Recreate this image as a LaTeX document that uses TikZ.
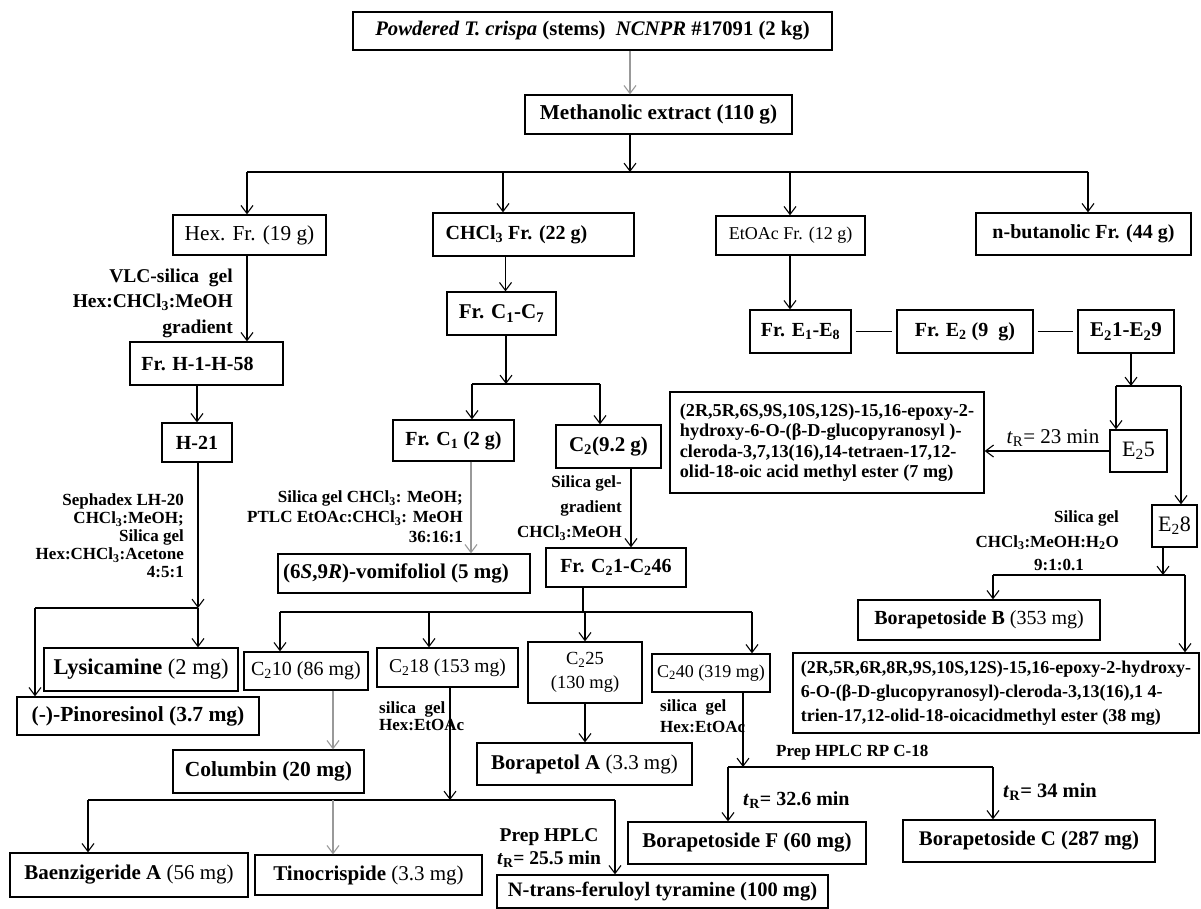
\documentclass[tikz,border=0pt]{standalone}
\usepackage{fontspec}
\setmainfont{Liberation Serif}
\usetikzlibrary{arrows.meta}
\newcommand\fsz[2]{\fontsize{#1}{#2}\selectfont}
\tikzset{
  bx/.style={draw, line width=1.3pt, inner sep=1pt, align=center, font=\fsz{20}{24}\bfseries},
  bf/.style={font=\fsz{#1}{24}\bfseries},
  rg/.style={font=\fsz{#1}{24}\mdseries},
  arr/.style={line width=1.1pt, -{Straight Barb[length=8pt,width=12pt]}},
  garr/.style={arr, draw=gray!80},
  bus/.style={line width=2.6pt},
  thin/.style={line width=1.3pt},
  lab/.style={inner sep=0pt, font=\fsz{17}{20}\bfseries},
}
\begin{document}
\begin{tikzpicture}[x=1pt,y=-1pt]
\fill[white] (0,0) rectangle (1201,909);
\useasboundingbox (0,0) rectangle (1201,909);

% boxes
\node[bx,bf=20.7,minimum width=479pt,minimum height=38pt] (top) at (592.5,31) {\textit{Powdered T. crispa} (stems)\ \ \textit{NCNPR} \#17091 (2 kg)};
\node[bx,bf=21.2,minimum width=267pt,minimum height=39pt] (meth) at (658.5,114.5) {Methanolic extract (110 g)};
\node[bx,rg=21.3,minimum width=153pt,minimum height=40pt] (hex) at (249.5,235) {Hex. Fr. (19 g)};
\node[bx,minimum width=201pt,minimum height=43pt] (chcl) at (533.5,234.5) {CHCl\textsubscript{3} Fr. (22 g)\hspace*{34pt}};
\node[bx,rg=18,minimum width=149pt,minimum height=39pt] (etoac) at (790.5,235.5) {EtOAc Fr. (12 g)};
\node[bx,minimum width=215pt,minimum height=42pt] (nbut) at (1083.5,234) {n-butanolic Fr. (44 g)};
\node[bx,minimum width=153pt,minimum height=43pt] (frH) at (206.5,363.5) {Fr. H-1-H-58\hspace*{18pt}};
\node[bx,minimum width=70pt,minimum height=39pt] (h21) at (197,442.5) {H-21};
\node[bx,bf=21,minimum width=109pt,minimum height=43pt] (frC) at (501.5,313.5) {Fr. C\textsubscript{1}-C\textsubscript{7}};
\node[bx,minimum width=121pt,minimum height=41pt] (frCa) at (453.5,440.5) {Fr. C\textsubscript{1} (2 g)};
\node[bx,bf=21,minimum width=105pt,minimum height=43pt] (cb) at (608.5,446.5) {C\textsubscript{2}(9.2 g)};
\node[bx,bf=21,minimum width=252pt,minimum height=39pt] (vomi) at (404,573.5) {(6\textit{S},9\textit{R})-vomifoliol (5 mg)\hspace*{16pt}};
\node[bx,minimum width=140pt,minimum height=39pt] (frCb) at (616,567.5) {Fr. C\textsubscript{2}1-C\textsubscript{2}46};
\node[bx,bf=22.5,minimum width=194pt,minimum height=43pt] (lysi) at (141,669.5) {Lysicamine \mdseries(2 mg)};
\node[bx,bf=21.5,minimum width=242pt,minimum height=38pt] (pino) at (138,716) {(-)-Pinoresinol (3.7 mg)};
\node[bx,rg=20,minimum width=124pt,minimum height=38pt] (c10) at (306,671) {C\textsubscript{2}10 (86 mg)};
\node[bx,rg=19.5,minimum width=141pt,minimum height=39pt] (c18) at (447.5,667.5) {C\textsubscript{2}18 (153 mg)};
\node[bx,rg=18.5,minimum width=114pt,minimum height=61pt] (c25) at (585,672.5) {C\textsubscript{2}25\\(130 mg)};
\node[bx,rg=18,minimum width=118pt,minimum height=38pt] (c40) at (711,673) {C\textsubscript{2}40 (319 mg)};
\node[bx,bf=21.5,minimum width=191pt,minimum height=43pt] (colu) at (268.5,771.5) {Columbin (20 mg)};
\node[bx,bf=21,minimum width=215pt,minimum height=42pt] (bolA) at (584.5,764) {Borapetol A \mdseries(3.3 mg)};
\node[bx,bf=21,minimum width=238pt,minimum height=44pt] (baen) at (129,875) {Baenzigeride A \mdseries(56 mg)};
\node[bx,bf=21,minimum width=227pt,minimum height=40pt] (tino) at (368.5,875) {Tinocrispide \mdseries(3.3 mg)};
\node[bx,bf=20.5,minimum width=331pt,minimum height=33pt] (ntr) at (662.5,891.5) {N-trans-feruloyl tyramine (100 mg)};
\node[bx,bf=21,minimum width=238pt,minimum height=42pt] (borF) at (747,843) {Borapetoside F (60 mg)};
\node[bx,bf=20.8,minimum width=252pt,minimum height=42pt] (borC) at (1029,841) {Borapetoside C (287 mg)};
\node[bx,minimum width=101pt,minimum height=43pt] (e18) at (800.5,331.5) {Fr. E\textsubscript{1}-E\textsubscript{8}};
\node[bx,minimum width=136pt,minimum height=43pt] (e2) at (965,331.5) {Fr. E\textsubscript{2} (9\ \ g)};
\node[bx,bf=21,minimum width=96pt,minimum height=43pt] (e29) at (1126,331.5) {E\textsubscript{2}1-E\textsubscript{2}9};
\node[bx,rg=22,minimum width=57pt,minimum height=42pt] (e25) at (1138.5,451) {E\textsubscript{2}5};
\node[bx,rg=22,minimum width=45pt,minimum height=42pt] (e28) at (1174.5,526) {E\textsubscript{2}8};
\node[bx,align=left,font=\fsz{18.2}{20.5}\bfseries,minimum width=314pt,minimum height=101pt] (big1) at (827,442.5) {(2R,5R,6S,9S,10S,12S)-15,16-epoxy-2-\\hydroxy-6-O-(β-D-glucopyranosyl )-\\cleroda-3,7,13(16),14-tetraen-17,12-\\olid-18-oic acid methyl ester (7 mg)};
\node[bx,minimum width=242pt,minimum height=40pt] (borB) at (979,620) {Borapetoside B \mdseries(353 mg)};
\node[bx,align=left,font=\fsz{18}{24}\bfseries,minimum width=406pt,minimum height=80pt] (big2) at (996,693) {(2R,5R,6R,8R,9S,10S,12S)-15,16-epoxy-2-hydroxy-\\6-O-(β-D-glucopyranosyl)-cleroda-3,13(16),1 4-\\trien-17,12-olid-18-oicacidmethyl ester (38 mg)};

% labels
\node[lab,font=\fsz{19.5}{25.5}\bfseries,align=right,anchor=east] (l1) at (233,303) {VLC-silica\ \ gel\\Hex:CHCl\textsubscript{3}:MeOH\\gradient};
\node[lab,align=right,anchor=east,font=\fsz{17}{18}\bfseries] (l2) at (184,536) {Sephadex LH-20\\CHCl\textsubscript{3}:MeOH;\\Silica gel\\Hex:CHCl\textsubscript{3}:Acetone\\4:5:1};
\node[lab,align=right,anchor=east] (l3) at (463,517) {Silica gel CHCl\textsubscript{3}: MeOH;\\PTLC EtOAc:CHCl\textsubscript{3}: MeOH\\36:16:1};
\node[lab,align=right,anchor=east,font=\fsz{17}{25}\bfseries] (l4) at (622,508) {Silica gel-\\gradient\\CHCl\textsubscript{3}:MeOH};
\node[lab,font=\fsz{21}{24}\mdseries] (l5) at (1053,438) {\textit{t}\textsubscript{R}= 23 min};
\node[lab,align=right,anchor=east,font=\fsz{17}{25}\bfseries] (l6) at (1119,530) {Silica gel\\CHCl\textsubscript{3}:MeOH:H\textsubscript{2}O};
\node[lab] (l7) at (1059,565) {9:1:0.1};
\node[lab,align=left,anchor=west,font=\fsz{17}{17}\bfseries] (l8) at (379,716) {silica\ \ gel\\Hex:EtOAc};
\node[lab,align=left,anchor=west,font=\fsz{17}{21}\bfseries] (l9) at (660,716.5) {silica\ \ gel\\Hex:EtOAc};
\node[lab,align=center,font=\fsz{19.5}{23}\bfseries] (l10) at (549,848) {Prep HPLC\\\textit{t}\textsubscript{R}= 25.5 min};
\node[lab,anchor=west] (l11) at (776,753) {Prep HPLC RP C-18};
\node[lab,anchor=west,font=\fsz{20}{22}\bfseries] (l12) at (743,800) {\textit{t}\textsubscript{R}= 32.6 min};
\node[lab,anchor=west,font=\fsz{20.5}{22}\bfseries] (l13) at (1003,792) {\textit{t}\textsubscript{R}= 34 min};

% connectors
\coordinate (m0) at (630,0);
\draw[garr] (m0 |- top.south) -- (m0 |- meth.north);
\coordinate (m1) at (630,172);
\draw[arr] (m1 |- meth.south) -- (m1);
\coordinate (b1a) at (247,172); \coordinate (b1c) at (503,172);
\coordinate (b1d) at (790,172); \coordinate (b1b) at (1088,172);
\draw[bus] (b1a) -- (b1b);
\draw[arr] (b1a) -- (b1a |- hex.north);
\draw[arr] (b1c) -- (b1c |- chcl.north);
\draw[arr] (b1d) -- (b1d |- etoac.north);
\draw[arr] (b1b) -- (b1b |- nbut.north);
% hexane branch
\draw[arr] (b1a |- hex.south) -- (b1a |- frH.north);
\draw[arr] (h21.north |- frH.south) -- (h21.north);
\coordinate (b2a) at (35,608); \coordinate (b2b) at (198,608);
\draw[arr] (b2b |- h21.south) -- (b2b);
\draw[bus] (b2a) -- (b2b);
\draw[arr] (b2b) -- (b2b |- lysi.north);
\draw[arr] (b2a) -- (b2a |- pino.north);
% chloroform branch
\coordinate (c1) at ([xshift=4pt]frC.north);
\draw[arr] (c1 |- chcl.south) -- (c1);
\coordinate (b3m) at (506,384); \coordinate (b3a) at (472,384); \coordinate (b3b) at (600,384);
\draw[arr] (b3m |- frC.south) -- (b3m);
\draw[bus,line width=2pt] (b3a) -- (b3b);
\draw[arr] (b3a) -- (b3a |- frCa.north);
\draw[arr] (b3b) -- (b3b |- cb.north);
\coordinate (v1) at (471,0);
\draw[garr] (v1 |- frCa.south) -- (v1 |- vomi.north);
\coordinate (v2) at (631,0);
\draw[arr] (v2 |- cb.south) -- (v2 |- frCb.north);
\coordinate (b4m) at (583,612);
\draw[thin] (b4m |- frCb.south) -- (b4m);
\coordinate (b4a) at (280,612); \coordinate (b4b) at (429,612);
\coordinate (b4c) at (585,612); \coordinate (b4d) at (752,612);
\draw[bus] (b4a) -- (b4d);
\draw[arr] (b4a) -- (b4a |- c10.north);
\draw[arr] (b4b) -- (b4b |- c18.north);
\draw[arr] (b4c) -- (b4c |- c25.north);
\draw[arr] (b4d) -- (b4d |- c40.north);
\draw[arr] (b4c |- c25.south) -- (b4c |- bolA.north);
\coordinate (v3) at (333,0);
\draw[garr] (v3 |- c10.south) -- (v3 |- colu.north);
\coordinate (b5m) at (450,800); \coordinate (b5a) at (88,800);
\coordinate (b5b) at (333,800); \coordinate (b5j) at (510,800); \coordinate (b5c) at (615,800);
\draw[arr] (b5m |- c18.south) -- (b5m);
\draw[bus,line width=2.2pt] (b5a) -- (b5j);
\draw[thin] (b5j) -- (b5c);
\draw[arr] (b5a) -- (b5a |- baen.north);
\draw[garr] (b5b) -- (b5b |- tino.north);
\draw[arr] (b5c) -- (b5c |- ntr.north);
\coordinate (b8m) at (743,767); \coordinate (b8a) at (728,767); \coordinate (b8b) at (993,767);
\draw[arr] (b8m |- c40.south) -- (b8m);
\draw[thin] (b8a) -- (b8b);
\draw[arr] (b8a) -- (b8a |- borF.north);
\draw[arr] (b8b) -- (b8b |- borC.north);
% ethyl acetate branch
\draw[arr] (b1d |- etoac.south) -- (b1d |- e18.north);
\draw[thin,shorten <=4pt,shorten >=4pt] (e18.east) -- (e2.west);
\draw[thin,shorten <=4pt,shorten >=4pt] (e2.east) -- (e29.west);
\coordinate (b6m) at (1131,386); \coordinate (b6a) at (1116,386); \coordinate (b6b) at (1181,386);
\draw[arr] (b6m |- e29.south) -- (b6m);
\draw[bus] (b6a) -- (b6b);
\draw[arr] (b6a) -- (b6a |- e25.north);
\draw[arr] (b6b) -- (b6b |- e28.north);
\draw[arr] (e25.west) -- (big1.east |- e25.west);
\coordinate (b7m) at (1163,575); \coordinate (b7a) at (993,575); \coordinate (b7b) at (1185,575);
\draw[arr] (b7m |- e28.south) -- (b7m);
\draw[bus] (b7a) -- (b7b);
\draw[arr] (b7a) -- (b7a |- borB.north);
\draw[arr] (b7b) -- (b7b |- big2.north);
\end{tikzpicture}
\end{document}
